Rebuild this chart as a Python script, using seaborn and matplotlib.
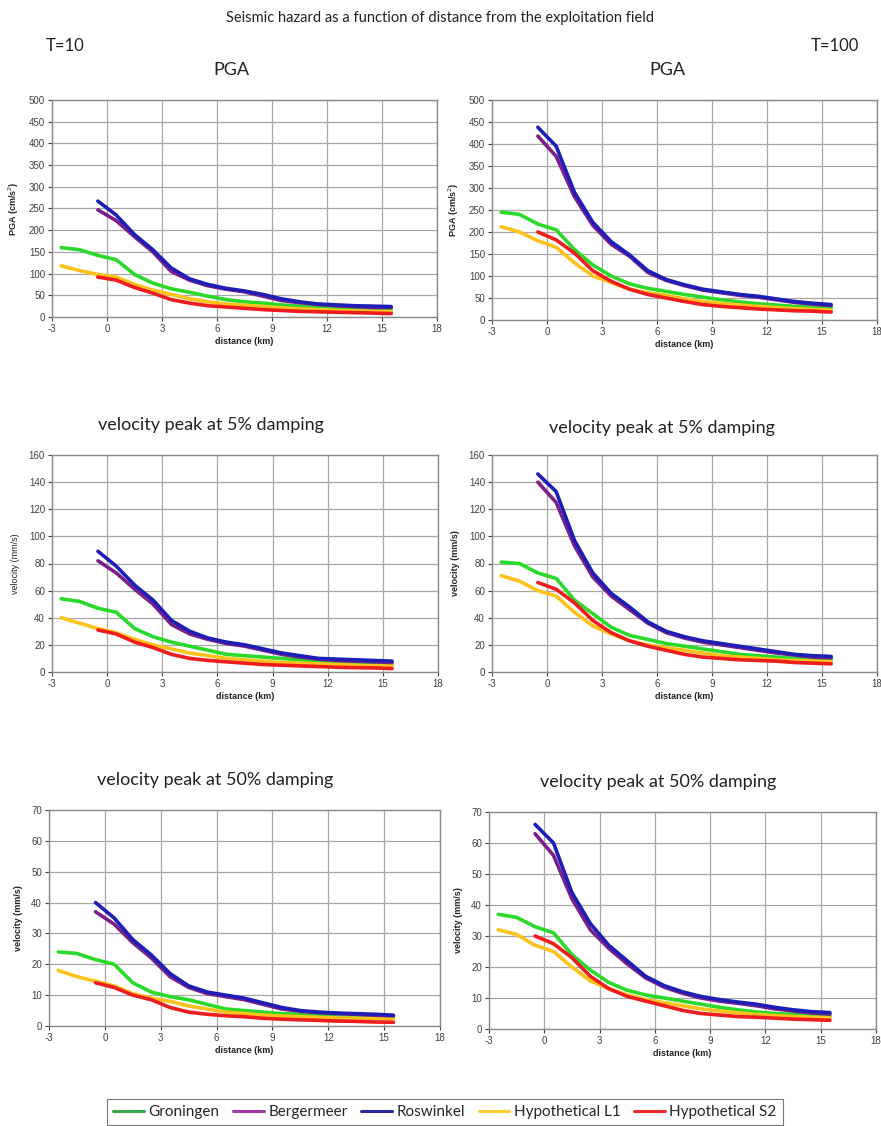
import numpy as np
import pandas as pd
import matplotlib
matplotlib.use("Agg")
import matplotlib.pyplot as plt
import seaborn as sns

# distance from the exploitation field (km), sampled every 1 km
dist_full = [-2.5, -1.5, -0.5, 0.5, 1.5, 2.5, 3.5, 4.5, 5.5, 6.5, 7.5,
             8.5, 9.5, 10.5, 11.5, 12.5, 13.5, 14.5, 15.5]
dist_short = dist_full[2:]

sites = ["Groningen", "Bergermeer", "Roswinkel", "Hypothetical L1", "Hypothetical S2"]
colors = ["#2bd92b", "#7b1f86", "#1d1db8", "#ffc21a", "#ee1c1c"]
legend_colors = ["#3aa84a", "#a03aa8", "#2a2aa0", "#ffcc33", "#ee2a2a"]

# ---- PGA, return period 10 years
pga10_groningen = [160, 155, 142, 132, 98, 78, 65, 57, 48, 40, 35, 32, 28, 25, 22, 20, 19, 18, 17]
pga10_bergermeer = [247, 222, 185, 150, 105, 85, 72, 64, 58, 48, 38, 33, 29, 26, 24, 22, 22]
pga10_roswinkel = [267, 235, 190, 155, 113, 88, 75, 66, 60, 52, 42, 35, 30, 28, 26, 25, 24]
pga10_l1 = [118, 107, 98, 92, 75, 62, 52, 42, 35, 30, 27, 24, 21, 19, 17, 15, 14, 13, 12]
pga10_s2 = [92, 85, 68, 55, 40, 32, 26, 23, 20, 17, 15, 13, 12, 11, 10, 9, 8]

# ---- PGA, return period 100 years
pga100_groningen = [245, 240, 218, 205, 160, 125, 100, 82, 72, 65, 58, 52, 46, 41, 37, 34, 31, 29, 28]
pga100_bergermeer = [418, 372, 280, 215, 172, 145, 108, 90, 78, 68, 62, 56, 52, 46, 40, 36, 33]
pga100_roswinkel = [438, 395, 290, 222, 178, 148, 112, 92, 80, 70, 64, 58, 54, 48, 42, 38, 35]
pga100_l1 = [212, 200, 180, 165, 130, 100, 85, 70, 62, 56, 48, 42, 38, 34, 31, 28, 26, 24, 22]
pga100_s2 = [200, 182, 152, 112, 88, 70, 58, 50, 42, 35, 31, 28, 25, 23, 21, 20, 18]

# ---- peak velocity, 5% damping, T=10
v5_10_groningen = [54, 52, 47, 44, 32, 26, 22, 19, 16, 13, 12, 11, 10, 9, 8, 7.5, 7, 6.5, 6]
v5_10_bergermeer = [82, 73, 61, 50, 35, 28, 24, 21, 19, 16, 13, 11, 9.5, 8.5, 8, 7.5, 7]
v5_10_roswinkel = [89, 78, 64, 53, 38, 30, 25, 22, 20, 17, 14, 12, 10, 9.5, 9, 8.5, 8]
v5_10_l1 = [40, 36, 32, 29, 24, 20, 17, 14, 12, 10, 9, 8, 7, 6.5, 6, 5.5, 5, 4.5, 4.5]
v5_10_s2 = [31, 28, 22, 18, 13, 10, 8.5, 7.5, 6.5, 5.5, 5, 4.5, 4, 3.5, 3.2, 3, 2.5]

# ---- peak velocity, 5% damping, T=100
v5_100_groningen = [81, 80, 73, 69, 53, 43, 33, 27, 24, 21, 19, 17, 15, 13, 12, 11, 10, 9.5, 9]
v5_100_bergermeer = [140, 125, 93, 70, 56, 46, 36, 29, 25, 22, 20, 18, 16, 14, 12.5, 11, 10.5]
v5_100_roswinkel = [146, 133, 97, 73, 58, 48, 37, 30, 26, 23, 21, 19, 17, 15, 13, 12, 11.5]
v5_100_l1 = [71, 67, 60, 56, 44, 34, 28, 23, 20, 18, 16, 14, 12, 11, 10, 9, 8.5, 8, 7.5]
v5_100_s2 = [66, 61, 51, 38, 29, 23, 19, 16, 13, 11, 10, 9, 8.5, 8, 7, 6.5, 6]

# ---- peak velocity, 50% damping, T=10
v50_10_groningen = [24, 23.5, 21.5, 20, 14, 11, 9.5, 8.5, 7, 5.5, 5, 4.5, 4, 3.8, 3.5, 3.3, 3, 3, 2.8]
v50_10_bergermeer = [37, 33, 27, 22, 16, 12.5, 10.5, 9.5, 8.5, 7, 5.5, 4.8, 4.3, 4, 3.8, 3.5, 3.3]
v50_10_roswinkel = [40, 35, 28, 23, 17, 13, 11, 10, 9, 7.5, 6, 5, 4.5, 4.2, 4, 3.8, 3.5]
v50_10_l1 = [18, 16, 14.5, 13, 10.5, 9, 8, 6.5, 5.5, 4.5, 4, 3.5, 3.2, 3, 2.8, 2.6, 2.5, 2.4, 2.3]
v50_10_s2 = [14, 12.5, 10, 8.5, 6, 4.5, 3.8, 3.3, 3, 2.5, 2.2, 2, 1.8, 1.6, 1.5, 1.3, 1.2]

# ---- peak velocity, 50% damping, T=100
v50_100_groningen = [37, 36, 33, 31, 24, 19, 15, 12.5, 11, 10, 9, 8, 7, 6.2, 5.5, 5, 4.7, 4.4, 4.2]
v50_100_bergermeer = [63, 56, 42, 32, 26, 21, 16.5, 13.5, 11.5, 10, 9, 8.3, 7.5, 6.5, 5.8, 5.2, 4.8]
v50_100_roswinkel = [66, 60, 44, 34, 27, 22, 17, 14, 12, 10.5, 9.5, 8.7, 8, 7, 6.2, 5.6, 5.3]
v50_100_l1 = [32, 30.5, 27, 25, 20, 15.5, 13, 11, 9.5, 8.5, 7.5, 6.5, 5.8, 5.2, 4.7, 4.3, 4, 3.8, 3.6]
v50_100_s2 = [30, 27.5, 23, 17, 13, 10.5, 9, 7.5, 6, 5, 4.5, 4, 3.8, 3.5, 3.2, 3, 2.8]

panels = [
    dict(series=[pga10_groningen, pga10_bergermeer, pga10_roswinkel, pga10_l1, pga10_s2],
         ymax=500, ystep=50, ylabel="PGA (cm/s$^2$)", title="PGA", bold=True),
    dict(series=[pga100_groningen, pga100_bergermeer, pga100_roswinkel, pga100_l1, pga100_s2],
         ymax=500, ystep=50, ylabel="PGA (cm/s$^2$)", title="PGA", bold=True),
    dict(series=[v5_10_groningen, v5_10_bergermeer, v5_10_roswinkel, v5_10_l1, v5_10_s2],
         ymax=160, ystep=20, ylabel="velocity (mm/s)", title="velocity peak at 5% damping", bold=False),
    dict(series=[v5_100_groningen, v5_100_bergermeer, v5_100_roswinkel, v5_100_l1, v5_100_s2],
         ymax=160, ystep=20, ylabel="velocity (mm/s)", title="velocity peak at 5% damping", bold=True),
    dict(series=[v50_10_groningen, v50_10_bergermeer, v50_10_roswinkel, v50_10_l1, v50_10_s2],
         ymax=70, ystep=10, ylabel="velocity (mm/s)", title="velocity peak at 50% damping", bold=True),
    dict(series=[v50_100_groningen, v50_100_bergermeer, v50_100_roswinkel, v50_100_l1, v50_100_s2],
         ymax=70, ystep=10, ylabel="velocity (mm/s)", title="velocity peak at 50% damping", bold=True),
]

# axes boxes in pixels: left, top, right, bottom
boxes = [(52, 100, 437, 317), (492, 100, 877, 320),
         (52, 455, 438, 672), (492, 455, 877, 672),
         (49, 810, 440, 1026), (489, 812, 876, 1029)]
# panel title anchors in pixels: x centre, y centre
title_pos = [(231, 70), (667, 70), (211, 425), (662, 428), (215, 780), (658, 782)]

W, H = 881, 1126
sns.set_theme(style="whitegrid")
plt.rcParams["font.family"] = ["Liberation Sans", "DejaVu Sans"]
plt.rcParams["axes.unicode_minus"] = False
title_font = ["Lato", "DejaVu Sans"]

fig = plt.figure(figsize=(W / 100, H / 100), dpi=100)
fig.patch.set_facecolor("white")

palette = dict(zip(sites, colors))
grid_col = "#a8a8a8"
tick_col = "#404040"

for panel, (l, t, r, b), (tx, ty) in zip(panels, boxes, title_pos):
    ax = fig.add_axes([l / W, 1 - b / H, (r - l) / W, (b - t) / H])
    rows = []
    for site, vals in zip(sites, panel["series"]):
        xs = dist_full if len(vals) == len(dist_full) else dist_short
        rows.append(pd.DataFrame({"distance": xs, "value": vals, "site": site}))
    df = pd.concat(rows, ignore_index=True)
    # near-field sites on top of the regional curves
    order = ["Groningen", "Hypothetical L1", "Hypothetical S2", "Bergermeer", "Roswinkel"]
    for site in order:
        sns.lineplot(data=df[df["site"] == site], x="distance", y="value",
                     color=palette[site], lw=2.6, ax=ax, legend=False)
    ax.set_xlim(-3, 18)
    ax.set_ylim(0, panel["ymax"])
    ax.set_xticks(np.arange(-3, 19, 3))
    ax.set_yticks(np.arange(0, panel["ymax"] + 1, panel["ystep"]))
    ax.set_facecolor("white")
    ax.grid(True, color=grid_col, lw=0.9)
    for s in ax.spines.values():
        s.set_visible(True)
        s.set_color("#8a8a8a")
        s.set_linewidth(1.0)
    ax.tick_params(axis="both", labelsize=7, colors=tick_col, length=3, width=0.8,
                   direction="out", pad=2, left=True, bottom=True)
    ax.set_xlabel("distance (km)", fontsize=6.5, fontweight="bold", color="#222222", labelpad=2)
    ax.set_ylabel(panel["ylabel"], fontsize=6.5,
                  fontweight="bold" if panel["bold"] else "normal", color="#222222", labelpad=6)
    fig.text(tx / W, 1 - ty / H, panel["title"], ha="center", va="center",
             fontsize=13, family=title_font, color="#222222")

fig.text(440 / W, 1 - 18 / H, "Seismic hazard as a function of distance from the exploitation field",
         ha="center", va="center", fontsize=10.5, family=title_font, color="#222222")
fig.text(65 / W, 1 - 46 / H, "T=10", ha="center", va="center", fontsize=12,
         family=title_font, color="#222222")
fig.text(835 / W, 1 - 46 / H, "T=100", ha="center", va="center", fontsize=12,
         family=title_font, color="#222222")

handles = [plt.Line2D([0], [0], color=c, lw=2.2) for c in legend_colors]
leg = fig.legend(handles, sites, loc="center", bbox_to_anchor=(445 / W, 1 - 1112 / H),
                 ncol=5, frameon=True, fancybox=False, handlelength=2.0, handletextpad=0.3,
                 columnspacing=0.9, borderpad=0.4, prop={"family": title_font, "size": 11})
leg.get_frame().set_edgecolor("#555555")
leg.get_frame().set_linewidth(0.8)

fig.savefig("out.png", dpi=100, facecolor="white")
